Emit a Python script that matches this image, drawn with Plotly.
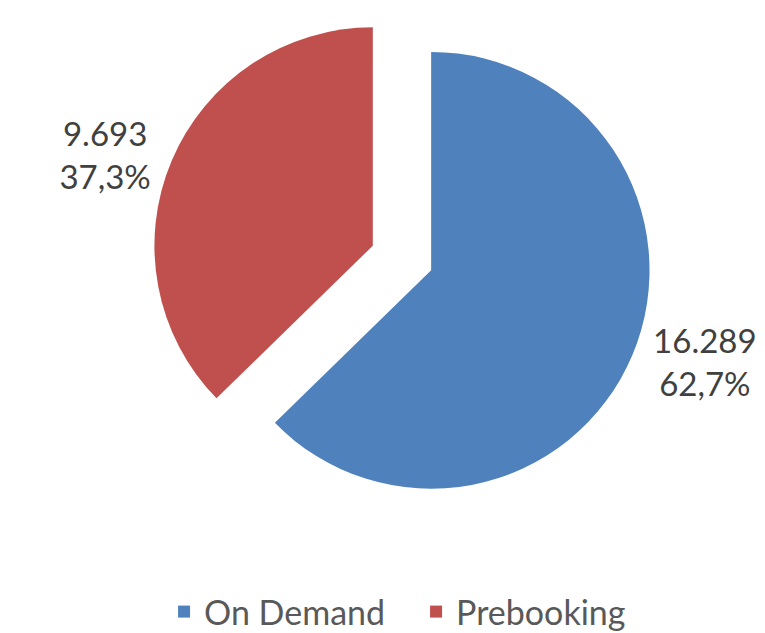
import plotly.graph_objects as go

labels = ["On Demand", "Prebooking"]
values = [16289, 9693]
colors = ["#4F81BD", "#C0504D"]

fig = go.Figure()
fig.add_trace(go.Pie(
    labels=labels,
    values=values,
    marker=dict(colors=colors, line=dict(color="white", width=0)),
    sort=False,
    direction="clockwise",
    rotation=0,
    pull=[0.145, 0.145],
    textposition="outside",
    texttemplate="%{value:,}<br>%{percent:.1%}",
    textfont=dict(family="Lato", size=33, color="#404040"),
    domain=dict(x=[0.175, 0.855], y=[0.21, 1]),
))

fig.update_layout(
    width=765,
    height=633,
    separators=",.",
    paper_bgcolor="white",
    plot_bgcolor="white",
    margin=dict(l=0, r=0, t=0, b=0, autoexpand=False),
    showlegend=True,
    legend=dict(
        orientation="h",
        x=0.204, xanchor="left",
        y=0.0, yanchor="bottom",
        font=dict(family="Lato", size=34, color="#595959"),
        itemwidth=30,
        entrywidth=207,
        entrywidthmode="pixels",
        traceorder="normal",
    ),
)

fig.write_html("out.html")
